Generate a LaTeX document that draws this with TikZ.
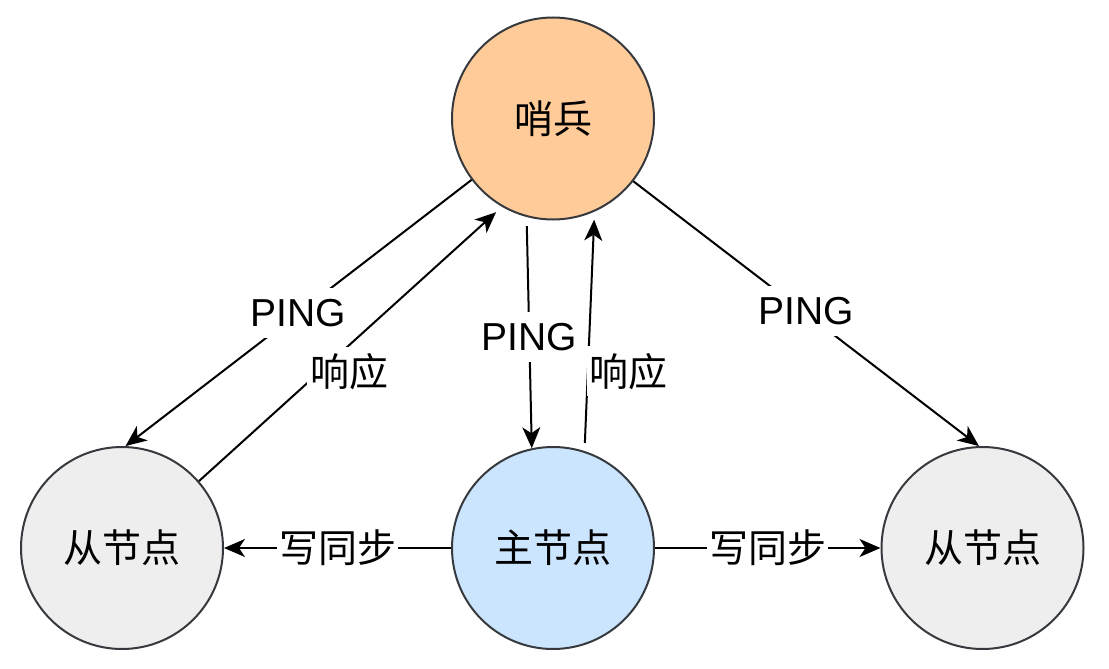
\documentclass[tikz,border=0pt]{standalone}
\usepackage{fontspec}
\setmainfont{Liberation Sans}
\newfontfamily\cjk{Noto Sans CJK SC}
\usetikzlibrary{arrows.meta}
\definecolor{sentfill}{HTML}{FFCC99}
\definecolor{mastfill}{HTML}{CCE5FF}
\definecolor{slavefill}{HTML}{EEEEEE}
\definecolor{strokec}{HTML}{36393D}
\begin{document}
\begin{tikzpicture}[x=1pt,y=-1pt,
  roundnode/.style={circle, draw=strokec, line width=2pt, minimum size=202pt, inner sep=0pt, font=\cjk\fontsize{39pt}{47pt}\selectfont},
  conn/.style={draw=black, line width=2pt, -{Stealth[length=21pt,width=18pt,inset=6pt]}},
  lbl/.style={fill=white, inner xsep=3pt, inner ysep=3pt, minimum height=50pt, font=\fontsize{39pt}{47pt}\selectfont, text=black},
  cjklbl/.style={lbl, font=\cjk\fontsize{39pt}{47pt}\selectfont}]
\fill[white] (0,0) rectangle (1109,669);
\useasboundingbox (0,0) rectangle (1109,669);

\node[roundnode, fill=sentfill] (s) at (553,118.5) {哨兵};
\node[roundnode, fill=slavefill] (l) at (122,548) {从节点};
\node[roundnode, fill=mastfill] (m) at (553,548) {主节点};
\node[roundnode, fill=slavefill] (r) at (982.5,548) {从节点};

\draw[conn] (s.217) -- node[lbl] (pingl) {PING} (l.88);
\draw[conn, shorten >=8pt] (l.41) -- node[cjklbl, pos=0.496, yshift=-27pt] (respl) {响应} (s.240);
\draw[conn, shorten <=9pt] (s.255) -- node[lbl, pos=0.52] (pingm) {PING} (m.102);
\draw[conn, shorten <=8pt, shorten >=8pt] (m.72) -- node[cjklbl, pos=0.333, xshift=41pt] (respm) {响应} (s.294);
\draw[conn] (s.322) -- node[lbl, yshift=3pt] (pingr) {PING} (r.92);
\draw[conn] (m.west) -- node[cjklbl, inner xsep=2pt] (syncl) {写同步} (l.east);
\draw[conn] (m.east) -- node[cjklbl, inner xsep=2pt] (syncr) {写同步} (r.west);
\end{tikzpicture}
\end{document}
